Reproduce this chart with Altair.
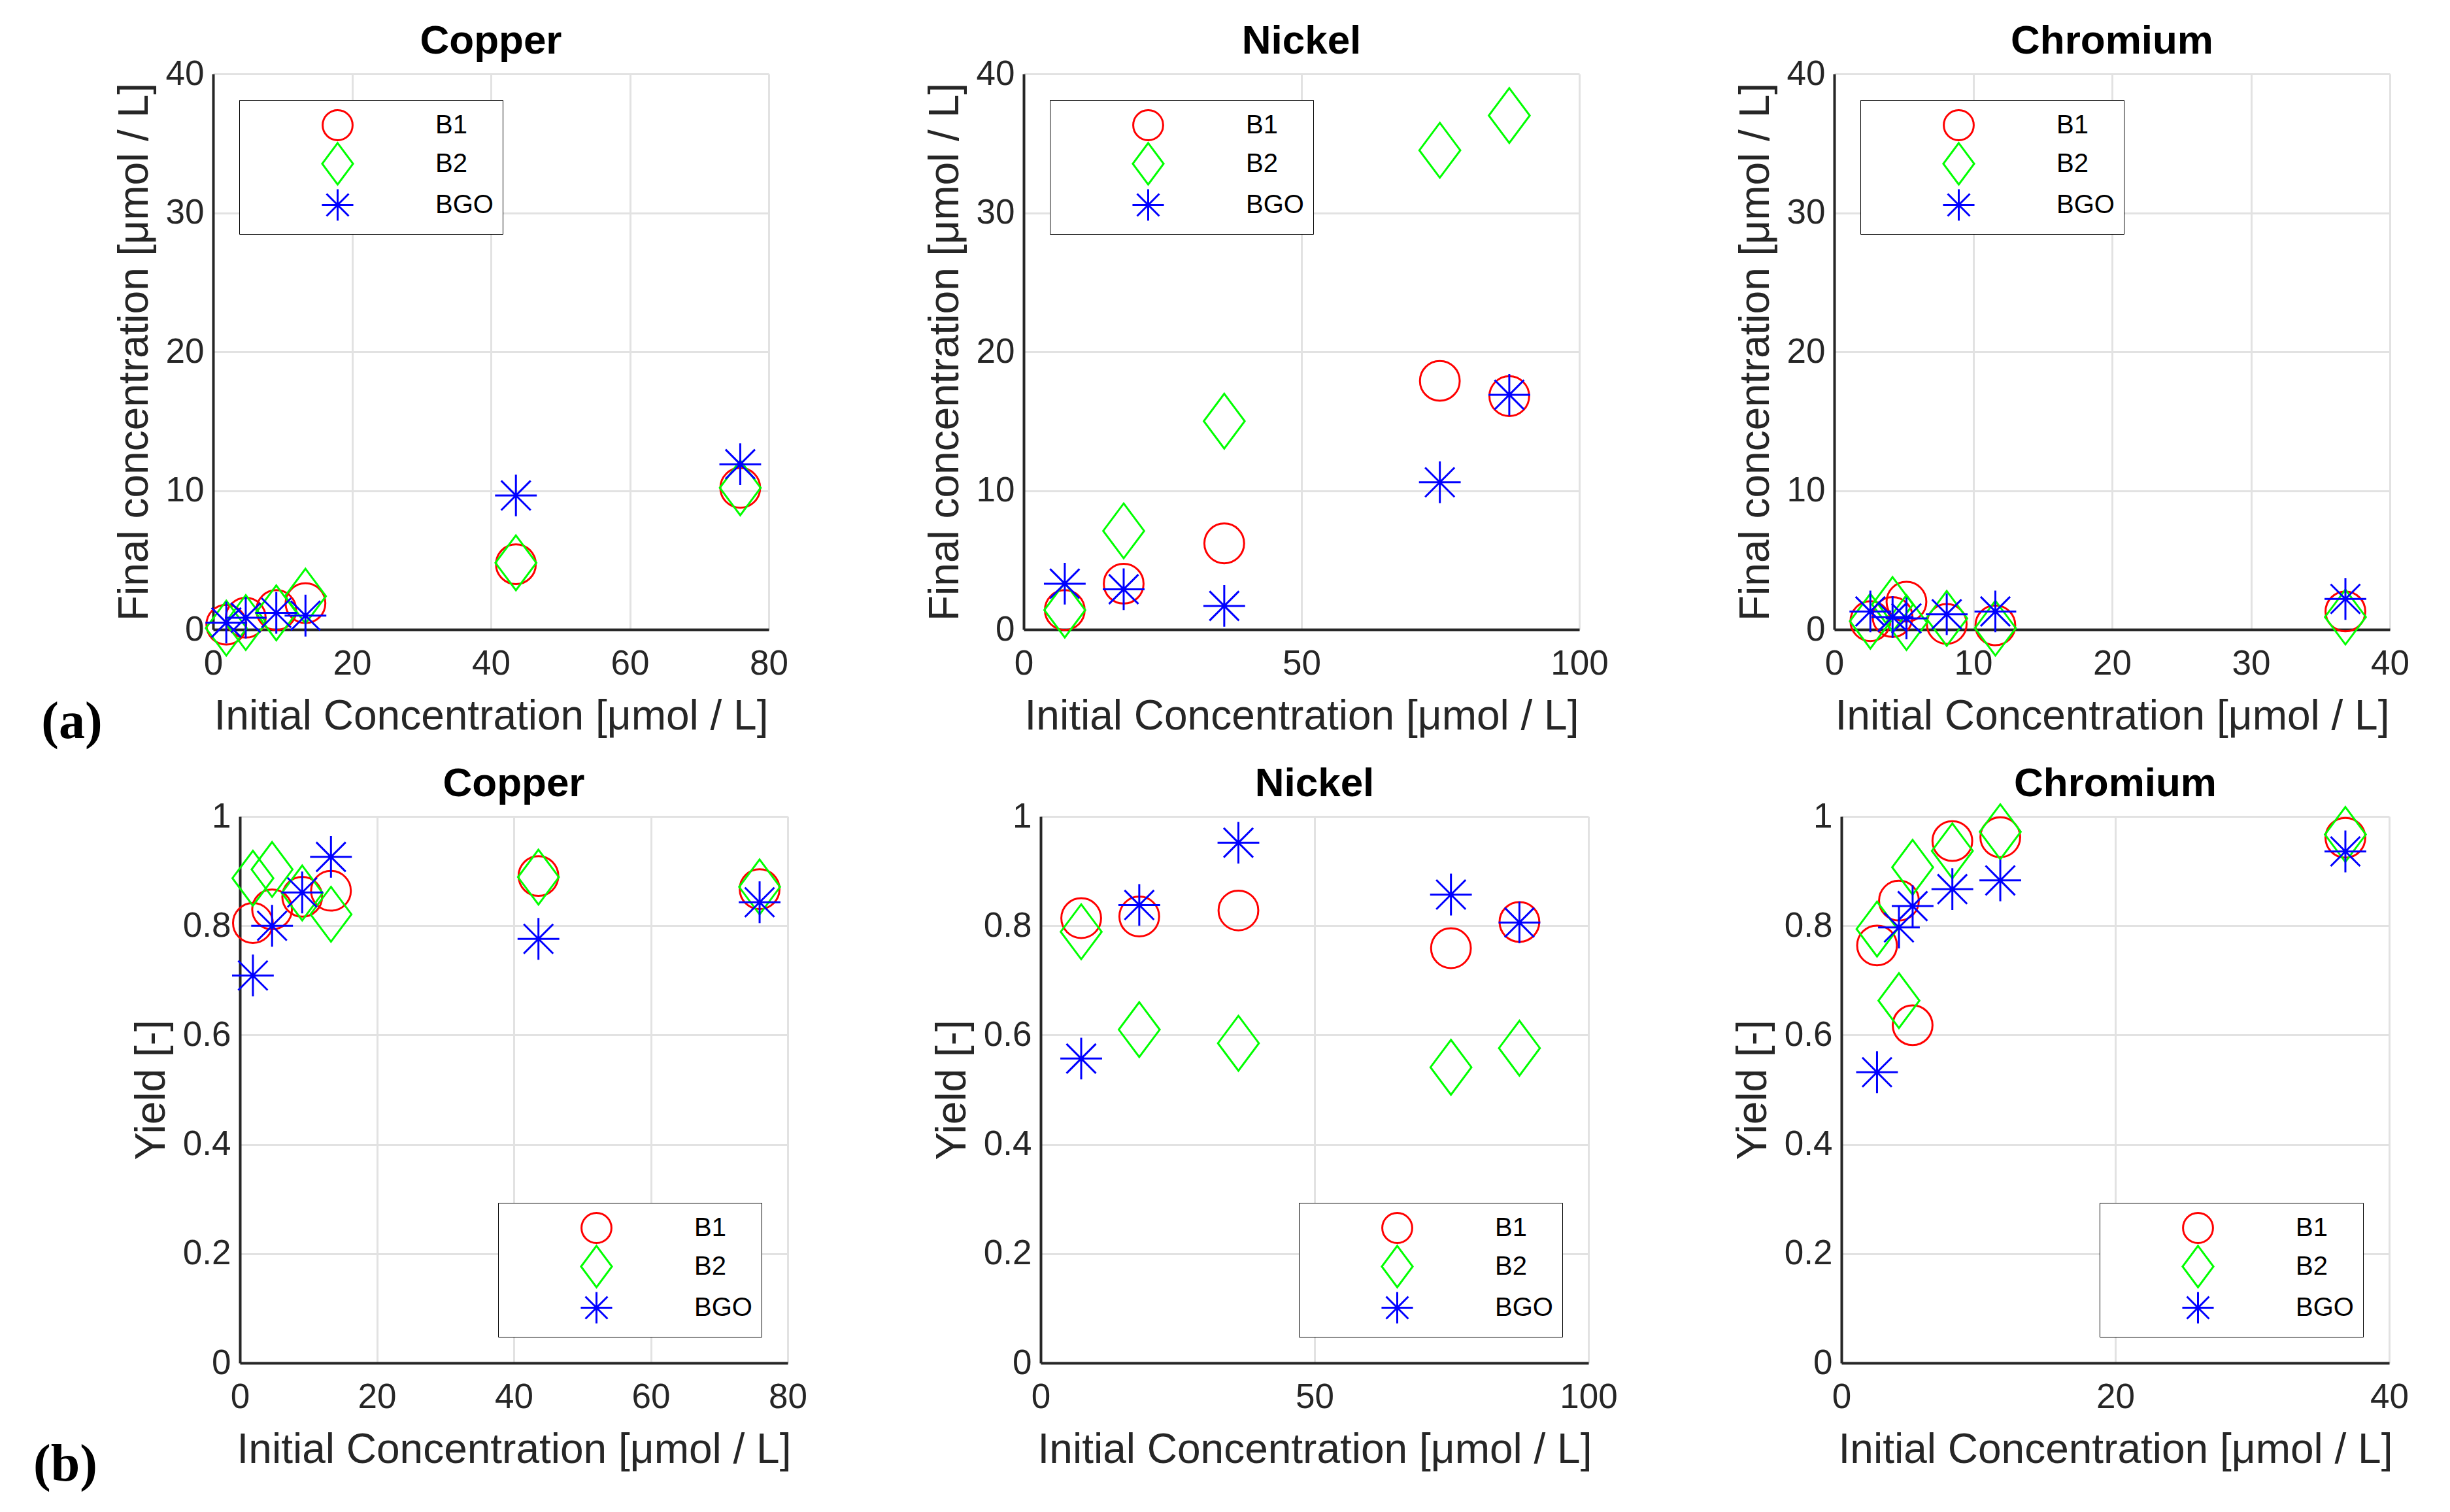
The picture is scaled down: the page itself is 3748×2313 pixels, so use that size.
import altair as alt
import pandas as pd

SERIES = ["B1", "B2", "BGO"]
COLORS = ["#FF0000", "#00FF00", "#0000FF"]
SHAPES = [
    "M1,0A1,1,0,1,1,-1,0A1,1,0,1,1,1,0Z",
    "M0,-1.38L1.03,0L0,1.38L-1.03,0Z",
    "M0,-1.05L0,1.05M-1.05,0L1.05,0M-0.74,-0.74L0.74,0.74M-0.74,0.74L0.74,-0.74",
]

XTITLE = "Initial Concentration [μmol / L]"
YTITLE_FINAL = "Final concentration [μmol / L]"
YTITLE_YIELD = "Yield [-]"

# Copper
cu_x = [1.9, 4.7, 9.1, 13.3, 43.6, 75.9]
cu_final_b1 = [0.35, 0.85, 1.4, 1.9, 4.7, 10.2]
cu_final_b2 = [0.1, 0.5, 1.2, 2.4, 4.8, 10.2]
cu_final_bgo = [0.5, 0.85, 1.2, 1.0, 9.65, 11.9]
cu_yield_b1 = [0.805, 0.83, 0.853, 0.864, 0.891, 0.867]
cu_yield_b2 = [0.887, 0.903, 0.86, 0.821, 0.889, 0.871]
cu_yield_bgo = [0.709, 0.80, 0.861, 0.926, 0.776, 0.843]

# Nickel
ni_x = [7.4, 18.0, 36.1, 74.9, 87.4]
ni_final_b1 = [1.4, 3.3, 6.2, 17.9, 16.8]
ni_final_b2 = [1.4, 7.1, 15.0, 34.5, 37.0]
ni_final_bgo = [3.3, 2.9, 1.7, 10.6, 16.9]
ni_yield_b1 = [0.814, 0.817, 0.828, 0.759, 0.807]
ni_yield_b2 = [0.789, 0.61, 0.585, 0.541, 0.576]
ni_yield_bgo = [0.557, 0.838, 0.952, 0.857, 0.806]

# Chromium
cr_x = [2.6, 4.2, 5.2, 8.1, 11.6, 36.8]
cr_final_b1 = [0.6, 0.9, 2.0, 0.4, 0.3, 1.3]
cr_final_b2 = [0.6, 1.8, 0.5, 0.8, 0.1, 0.9]
cr_final_bgo = [1.3, 0.9, 0.8, 1.1, 1.3, 2.2]
cr_yield_b1 = [0.764, 0.846, 0.618, 0.955, 0.962, 0.961]
cr_yield_b2 = [0.794, 0.663, 0.907, 0.937, 0.972, 0.967]
cr_yield_bgo = [0.532, 0.797, 0.836, 0.867, 0.883, 0.936]

FONT = "Liberation Sans"
LABEL_EXPR = "'' + datum.value"


def panel(title, x, ys, xmax, xticks, ymax, yticks, ytitle, orient, w, h,
          label=None, lx=0, ly=0):
    rows = []
    for s, yv in zip(SERIES, ys):
        for xi, yi in zip(x, yv):
            rows.append({"series": s, "x": xi, "y": yi})
    df = pd.DataFrame(rows)
    leg = alt.Legend(
        title=None, orient=orient, offset=40, padding=14,
        strokeColor="black", fillColor="white",
        symbolSize=2100, symbolStrokeWidth=3, symbolOffset=112,
        labelOffset=125, labelFontSize=40, labelFont=FONT,
        labelColor="#000000", rowPadding=-9,
        labelExpr="datum.label + ' '",
    )
    pts = alt.Chart(df).mark_point(
        filled=False, opacity=1, strokeWidth=3, size=3700
    ).encode(
        x=alt.X("x:Q", scale=alt.Scale(domain=[0, xmax], nice=False, zero=False),
                axis=alt.Axis(values=xticks, title=XTITLE, labelExpr=LABEL_EXPR)),
        y=alt.Y("y:Q", scale=alt.Scale(domain=[0, ymax], nice=False, zero=False),
                axis=alt.Axis(values=yticks, title=ytitle, labelExpr=LABEL_EXPR)),
        color=alt.Color("series:N", scale=alt.Scale(domain=SERIES, range=COLORS), legend=leg),
        shape=alt.Shape("series:N", scale=alt.Scale(domain=SERIES, range=SHAPES), legend=leg),
    )
    layers = [pts]
    if label is not None:
        lab = alt.Chart(pd.DataFrame({"t": [label]})).mark_text(
            font="Liberation Serif", fontSize=80, fontWeight="bold",
            align="center", baseline="alphabetic", color="black"
        ).encode(text="t:N", x=alt.value(lx), y=alt.value(ly))
        layers.append(lab)
    return alt.layer(*layers).properties(
        width=w, height=h,
        title=alt.TitleParams(text=title, fontSize=62, fontWeight="bold",
                              font=FONT, color="black", offset=-8, anchor="middle"),
    )


TW, TH = 850, 850
BW, BH = 838, 836

top = alt.hconcat(
    panel("Copper", cu_x, [cu_final_b1, cu_final_b2, cu_final_bgo], 80, [0, 20, 40, 60, 80],
          40, [0, 10, 20, 30, 40], YTITLE_FINAL, "top-left", TW, TH,
          label="(a)", lx=-216, ly=1016),
    panel("Nickel", ni_x, [ni_final_b1, ni_final_b2, ni_final_bgo], 100, [0, 50, 100],
          40, [0, 10, 20, 30, 40], YTITLE_FINAL, "top-left", TW, TH),
    panel("Chromium", cr_x, [cr_final_b1, cr_final_b2, cr_final_bgo], 40, [0, 10, 20, 30, 40],
          40, [0, 10, 20, 30, 40], YTITLE_FINAL, "top-left", TW, TH),
    spacing=390, bounds="flush",
).resolve_scale(color="independent", shape="independent", x="independent", y="independent")

yt = [0, 0.2, 0.4, 0.6, 0.8, 1]
bottom_panels = alt.hconcat(
    panel("Copper", cu_x, [cu_yield_b1, cu_yield_b2, cu_yield_bgo], 80, [0, 20, 40, 60, 80],
          1, yt, YTITLE_YIELD, "bottom-right", BW, BH,
          label="(b)", lx=-267, ly=1016),
    panel("Nickel", ni_x, [ni_yield_b1, ni_yield_b2, ni_yield_bgo], 100, [0, 50, 100],
          1, yt, YTITLE_YIELD, "bottom-right", BW, BH),
    panel("Chromium", cr_x, [cr_yield_b1, cr_yield_b2, cr_yield_bgo], 40, [0, 20, 40],
          1, yt, YTITLE_YIELD, "bottom-right", BW, BH),
    spacing=387, bounds="flush",
).resolve_scale(color="independent", shape="independent", x="independent", y="independent")

spacer = alt.Chart(pd.DataFrame({"a": [0]})).mark_point(opacity=0).encode(
    x=alt.value(0), y=alt.value(0)
).properties(width=1, height=1)

bottom = alt.hconcat(spacer, bottom_panels, spacing=40, bounds="flush").resolve_scale(
    color="independent", shape="independent", x="independent", y="independent")

chart = alt.vconcat(top, bottom, spacing=23).resolve_scale(
    color="independent", shape="independent", x="independent", y="independent"
).properties(
    padding={"left": 43, "top": 24, "right": 10, "bottom": 10},
    background="white",
).configure_axis(
    domainColor="#262626", domainWidth=4, gridColor="#E2E2E2", gridWidth=3,
    ticks=False, labelFont=FONT, labelFontSize=53, labelColor="#262626",
    titleFont=FONT, titleFontSize=64, titleColor="#262626", titleFontWeight="normal",
    labelFlush=False, labelOverlap=False,
).configure_axisX(
    labelPadding=26, titlePadding=22
).configure_axisY(
    labelPadding=14, titlePadding=15
).configure_view(
    strokeWidth=0
)

chart.save("out.html", embed_options={"renderer": "svg", "actions": False})
